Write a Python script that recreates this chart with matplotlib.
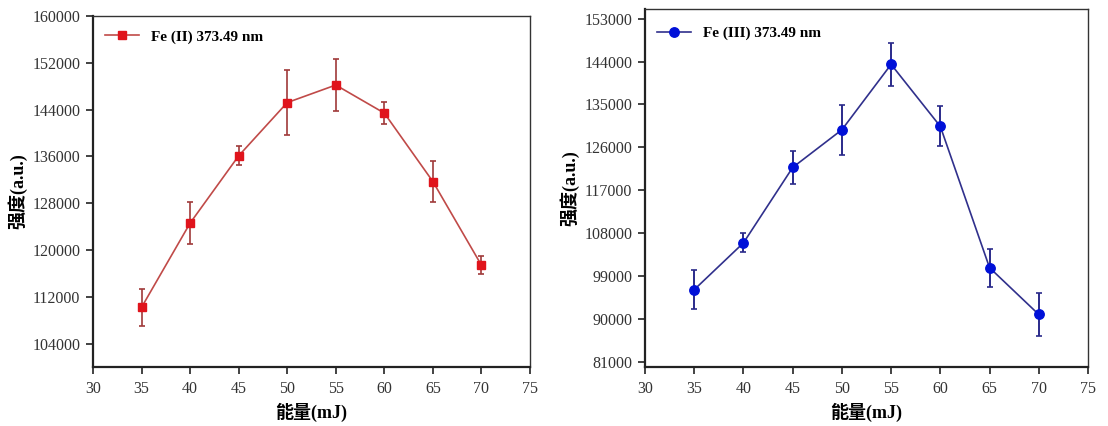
import matplotlib
matplotlib.use("Agg")
import matplotlib.pyplot as plt
from matplotlib.ticker import FixedLocator
from matplotlib.lines import Line2D

plt.rcParams['font.family'] = ['Liberation Serif', 'Noto Sans CJK SC']

energy = [35, 40, 45, 50, 55, 60, 65, 70]
fe2_int = [110200, 124600, 136100, 145200, 148200, 143400, 131700, 117400]
fe2_err = [3200, 3600, 1650, 5500, 4500, 1900, 3500, 1500]
fe3_int = [96200, 106000, 121800, 129700, 143400, 130400, 100800, 91000]
fe3_err = [4100, 2000, 3400, 5200, 4500, 4200, 4000, 4500]

x_ticks = [30, 35, 40, 45, 50, 55, 60, 65, 70, 75]
fe2_yticks = [104000, 112000, 120000, 128000, 136000, 144000, 152000, 160000]
fe3_yticks = [81000, 90000, 99000, 108000, 117000, 126000, 135000, 144000, 153000]

fe2_label = 'Fe (II) 373.49 nm'
fe3_label = 'Fe (III) 373.49 nm'
ylabel = '强度(a.u.)'
xlabel = '能量(mJ)'

W, H = 1108, 426
fig = plt.figure(figsize=(W / 100, H / 100), dpi=100)

def make_ax(l, t, r, b):
    return fig.add_axes([l / W, 1 - b / H, (r - l) / W, (b - t) / H])

ax1 = make_ax(93, 16, 530, 367)
ax2 = make_ax(645, 9, 1088, 367)

def style(ax, yticks, ylim):
    ax.set_xlim(30, 75)
    ax.set_ylim(*ylim)
    ax.xaxis.set_major_locator(FixedLocator(x_ticks))
    ax.yaxis.set_major_locator(FixedLocator(yticks))
    ax.set_xticklabels([str(v) for v in x_ticks])
    ax.set_yticklabels([str(v) for v in yticks])
    ax.tick_params(direction='out', length=5, width=1.2, labelsize=11.5,
                   colors='#222222', labelcolor='#333333')
    ax.tick_params(axis='x', pad=5)
    ax.tick_params(axis='y', pad=4)
    for s in ['left', 'bottom']:
        ax.spines[s].set_linewidth(1.6)
        ax.spines[s].set_color('#222222')
    for s in ['top', 'right']:
        ax.spines[s].set_linewidth(1.0)
        ax.spines[s].set_color('#333333')
    ax.set_xlabel(xlabel, fontsize=13, fontweight='bold', labelpad=4)
    ax.set_ylabel(ylabel, fontsize=13, fontweight='bold', labelpad=4)

ax1.errorbar(energy, fe2_int, yerr=fe2_err, color='#c04a48', lw=1.2,
             marker='s', ms=5.8, mfc='#e0141c', mec='#e0141c',
             ecolor='#a03a3a', elinewidth=1.2, capsize=2.5, capthick=1.2)
style(ax1, fe2_yticks, (100000, 160000))
h1 = Line2D([], [], color='#c04a48', lw=1.2, marker='s', ms=5.8,
            mfc='#e0141c', mec='#e0141c')
ax1.legend([h1], [fe2_label], loc='upper left', frameon=False,
           prop={'weight': 'bold', 'size': 11},
           handlelength=2.2, borderaxespad=0.4, bbox_to_anchor=(0.0, 0.995))

ax2.errorbar(energy, fe3_int, yerr=fe3_err, color='#30308c', lw=1.2,
             marker='o', ms=6.8, mfc='#0010d8', mec='#0010d8',
             ecolor='#2a2a8a', elinewidth=1.4, capsize=2.5, capthick=1.2)
style(ax2, fe3_yticks, (80000, 155000))
h2 = Line2D([], [], color='#30308c', lw=1.2, marker='o', ms=6.8,
            mfc='#0010d8', mec='#0010d8')
ax2.legend([h2], [fe3_label], loc='upper left', frameon=False,
           prop={'weight': 'bold', 'size': 11},
           handlelength=2.2, borderaxespad=0.4, bbox_to_anchor=(0.0, 0.985))

fig.savefig('out.png', dpi=100)
